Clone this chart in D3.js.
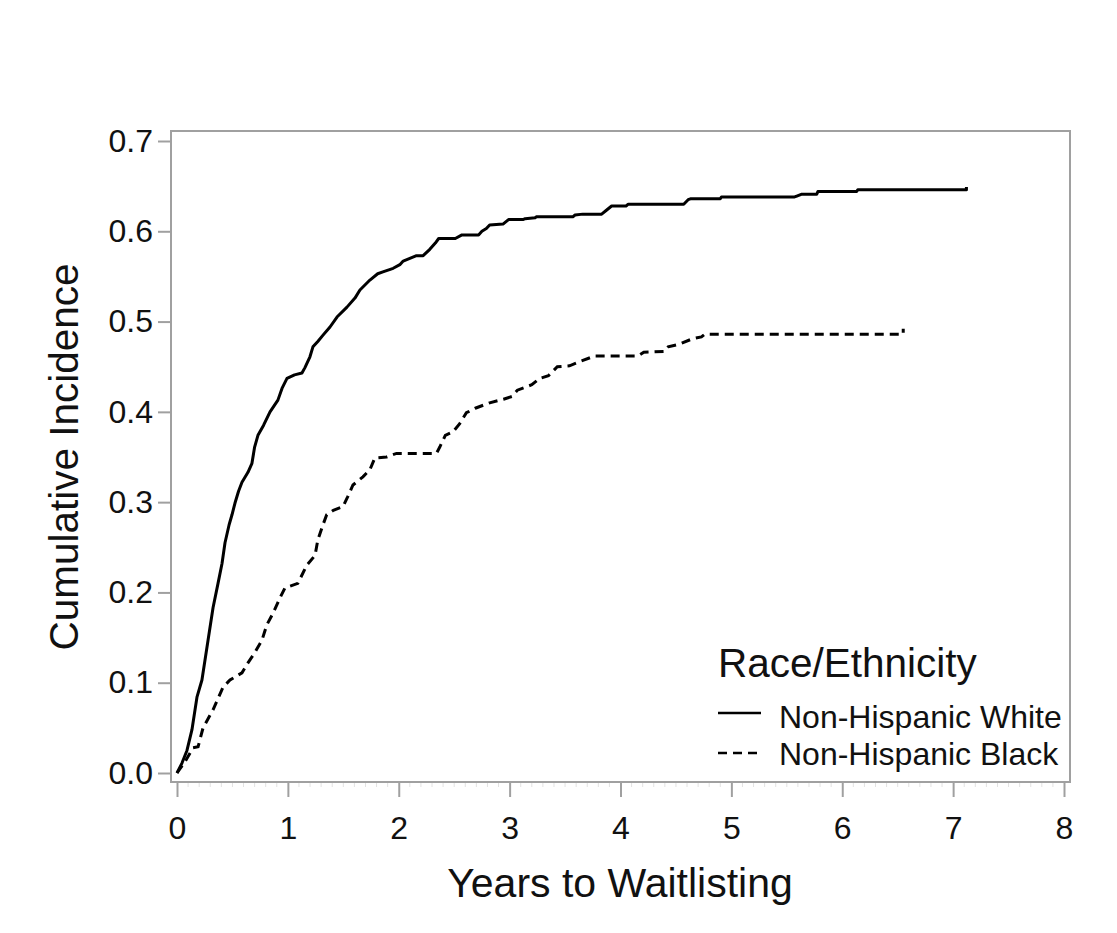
<!DOCTYPE html>
<html>
<head>
<meta charset="utf-8">
<script src="https://cdn.jsdelivr.net/npm/d3@7/dist/d3.min.js"></script>
<style>
  html, body { margin: 0; padding: 0; background: #fff; }
  svg { display: block; font-family: "Liberation Sans", Arial, sans-serif; }
</style>
</head>
<body>
<svg id="chart" width="1117" height="933"></svg>
<script>
// ---- Data ----
const seriesNames = ["Non-Hispanic White", "Non-Hispanic Black"];
const legendTitle = "Race/Ethnicity";
const xTicks = [0, 1, 2, 3, 4, 5, 6, 7, 8];
const yTicks = [0.0, 0.1, 0.2, 0.3, 0.4, 0.5, 0.6, 0.7];

const whiteTime = [0,0.045,0.09,0.135,0.18,0.225,0.28,0.325,0.37,0.406,0.433,0.47,0.496,0.523,0.555,0.586,0.64,0.676,0.70,0.73,0.78,0.839,0.91,0.947,0.992,1.06,1.127,1.154,1.199,1.226,1.27,1.317,1.38,1.443,1.533,1.605,1.65,1.74,1.81,1.857,1.95,2.01,2.04,2.16,2.22,2.28,2.33,2.36,2.51,2.57,2.72,2.75,2.79,2.82,2.94,2.99,3.12,3.14,3.23,3.24,3.57,3.59,3.66,3.83,3.87,3.92,4.05,4.07,4.57,4.61,4.63,4.90,4.91,5.57,5.59,5.63,5.77,5.78,6.13,6.14,7.12,7.12];
const whiteInc  = [0,0.011,0.025,0.048,0.084,0.103,0.147,0.183,0.21,0.232,0.255,0.275,0.286,0.299,0.312,0.322,0.333,0.343,0.361,0.374,0.385,0.400,0.413,0.426,0.437,0.441,0.443,0.449,0.461,0.472,0.478,0.485,0.494,0.505,0.516,0.526,0.535,0.546,0.553,0.555,0.559,0.563,0.567,0.573,0.573,0.580,0.587,0.592,0.592,0.596,0.596,0.600,0.603,0.607,0.608,0.613,0.613,0.614,0.615,0.616,0.616,0.618,0.619,0.619,0.623,0.628,0.628,0.630,0.630,0.635,0.636,0.636,0.638,0.638,0.639,0.641,0.641,0.644,0.644,0.646,0.646,0.649];

const blackTime = [0,0.07,0.145,0.19,0.235,0.325,0.415,0.478,0.586,0.64,0.70,0.766,0.81,0.866,0.929,0.974,1.09,1.17,1.245,1.27,1.317,1.35,1.41,1.497,1.54,1.587,1.677,1.74,1.785,1.89,1.98,2.34,2.37,2.42,2.49,2.55,2.61,2.69,2.82,2.945,3.02,3.07,3.20,3.27,3.35,3.43,3.54,3.64,3.77,4.16,4.21,4.40,4.43,4.53,4.65,4.73,4.76,6.55,6.55];
const blackInc  = [0,0.012,0.028,0.029,0.05,0.07,0.095,0.103,0.111,0.122,0.133,0.147,0.164,0.177,0.194,0.205,0.21,0.23,0.241,0.258,0.275,0.286,0.291,0.295,0.306,0.319,0.328,0.336,0.349,0.35,0.354,0.354,0.361,0.374,0.378,0.387,0.399,0.404,0.41,0.414,0.417,0.424,0.43,0.437,0.44,0.45,0.451,0.456,0.462,0.462,0.466,0.467,0.472,0.475,0.481,0.483,0.486,0.486,0.492];

// ---- Layout ----
const frame = { left: 171, right: 1070, top: 131, bottom: 782 };
const svg = d3.select("#chart");

const x = d3.scaleLinear().domain([0, 8]).range([177, 1064]);
const y = d3.scaleLinear().domain([0, 0.7]).range([773, 141]);

const axisColor = "#a0a0a0";
const textColor = "#111";
const tickFont = 32;

// frame
svg.append("rect")
  .attr("x", frame.left).attr("y", frame.top)
  .attr("width", frame.right - frame.left)
  .attr("height", frame.bottom - frame.top)
  .attr("fill", "none").attr("stroke", axisColor).attr("stroke-width", 2);

// faint minor ticks on x axis
svg.append("g").selectAll("line")
  .data(d3.range(0, 80).map(i => i / 10).filter(v => Math.abs(v - Math.round(v)) > 1e-6))
  .join("line")
  .attr("x1", d => x(d)).attr("x2", d => x(d))
  .attr("y1", frame.bottom + 1).attr("y2", frame.bottom + 5)
  .attr("stroke", "#e2e2e2").attr("stroke-width", 1);

// x axis
const gx = svg.append("g")
  .attr("transform", `translate(0,${frame.bottom})`)
  .call(d3.axisBottom(x).tickValues(xTicks).tickSize(15).tickPadding(19).tickFormat(d3.format("d")));
gx.select(".domain").remove();
gx.selectAll(".tick line").attr("stroke", axisColor).attr("stroke-width", 2);
gx.selectAll(".tick text").attr("font-size", tickFont).attr("fill", textColor)
  .attr("font-family", "Liberation Sans, Arial, sans-serif");

// y axis
const gy = svg.append("g")
  .attr("transform", `translate(${frame.left},0)`)
  .call(d3.axisLeft(y).tickValues(yTicks).tickSize(13).tickPadding(5).tickFormat(d3.format(".1f")));
gy.select(".domain").remove();
gy.selectAll(".tick line").attr("stroke", axisColor).attr("stroke-width", 2);
gy.selectAll(".tick text").attr("font-size", tickFont).attr("fill", textColor)
  .attr("font-family", "Liberation Sans, Arial, sans-serif");

// axis titles
svg.append("text")
  .attr("x", 620).attr("y", 897)
  .attr("text-anchor", "middle").attr("font-size", 41).attr("fill", textColor)
  .text("Years to Waitlisting");
svg.append("text")
  .attr("transform", "translate(78,457) rotate(-90)")
  .attr("text-anchor", "middle").attr("font-size", 40.5).attr("fill", textColor)
  .text("Cumulative Incidence");

// lines
const line = d3.line().x(d => x(d[0])).y(d => y(d[1])).curve(d3.curveLinear);
const whiteData = whiteTime.map((t, i) => [t, whiteInc[i]]);
const blackData = blackTime.map((t, i) => [t, blackInc[i]]);

svg.append("path").datum(whiteData)
  .attr("d", line).attr("fill", "none")
  .attr("stroke", "#000").attr("stroke-width", 3).attr("stroke-linejoin", "round");
svg.append("path").datum(blackData)
  .attr("d", line).attr("fill", "none")
  .attr("stroke", "#000").attr("stroke-width", 3).attr("stroke-dasharray", "9,6");

// legend
const lg = svg.append("g");
lg.append("text").attr("x", 718).attr("y", 677)
  .attr("font-size", 40.5).attr("fill", textColor).text(legendTitle);
const dashes = [null, "9,6"];
const rows = [713, 753];
const baselines = [728, 765];
seriesNames.forEach((name, i) => {
  lg.append("line")
    .attr("x1", 718).attr("x2", 761).attr("y1", rows[i]).attr("y2", rows[i])
    .attr("stroke", "#000").attr("stroke-width", 2.5)
    .attr("stroke-dasharray", dashes[i]);
  lg.append("text").attr("x", 779).attr("y", baselines[i])
    .attr("font-size", 32).attr("fill", textColor).text(name);
});
</script>
</body>
</html>
